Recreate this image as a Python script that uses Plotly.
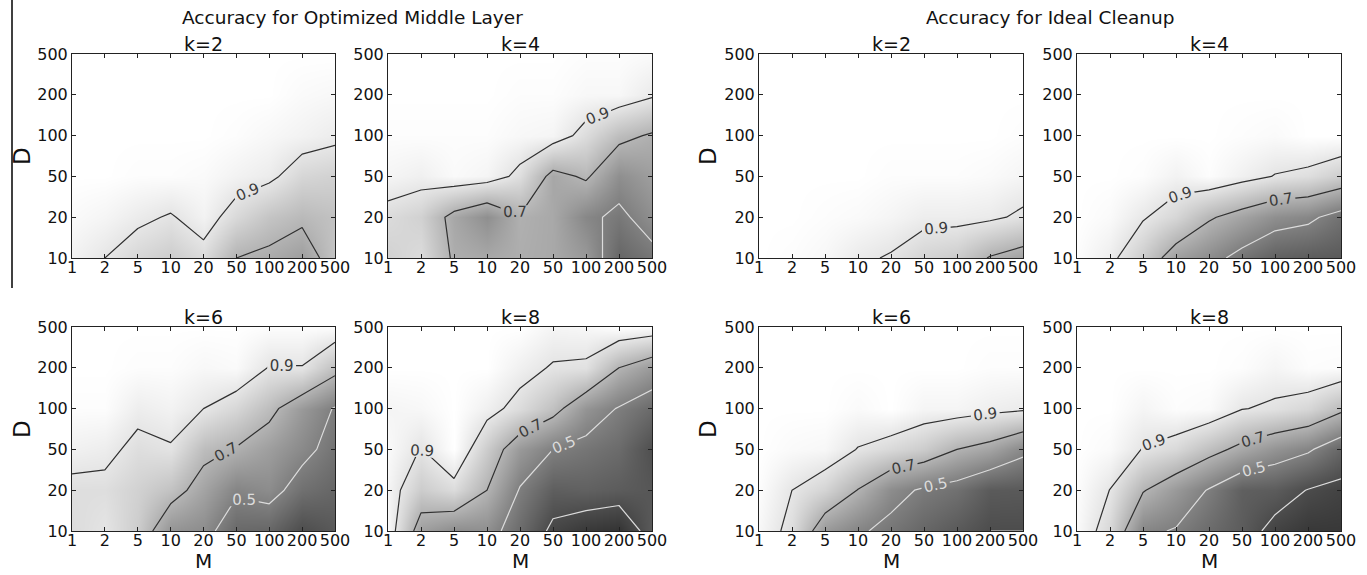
import plotly.graph_objects as go

W, H = 1367, 575

M_LABELS = ["1", "2", "5", "10", "20", "50", "100", "200", "500"]
D_LABELS = ["10", "20", "50", "100", "200", "500"]

# accuracy grids: rows = D (10..500), columns = M (1..500)
OPT_K2 = [
    [0.95, 0.90, 0.84, 0.80, 0.86, 0.70, 0.67, 0.62, 0.77],
    [0.98, 0.96, 0.923, 0.89, 0.95, 0.85, 0.77, 0.727, 0.76],
    [1.0, 1.0, 0.99, 0.99, 0.98, 0.95, 0.925, 0.84, 0.82],
    [1.0, 1.0, 1.0, 1.0, 1.0, 0.99, 0.97, 0.95, 0.925],
    [1.0, 1.0, 1.0, 1.0, 1.0, 1.0, 1.0, 0.98, 0.97],
    [1.0, 1.0, 1.0, 1.0, 1.0, 1.0, 1.0, 1.0, 1.0],
]
OPT_K4 = [
    [0.82, 0.86, 0.68, 0.66, 0.68, 0.66, 0.60, 0.40, 0.46],
    [0.86, 0.82, 0.654, 0.56, 0.69, 0.66, 0.53, 0.47, 0.56],
    [0.96, 0.94, 0.98, 0.96, 0.87, 0.654, 0.72, 0.56, 0.62],
    [0.99, 0.99, 0.99, 0.99, 0.97, 0.96, 0.86, 0.74, 0.684],
    [1.0, 1.0, 1.0, 1.0, 0.99, 0.99, 0.97, 0.97, 0.916],
    [1.0, 1.0, 1.0, 1.0, 1.0, 1.0, 0.99, 0.99, 0.98],
]
OPT_K6 = [
    [0.86, 0.895, 0.80, 0.58, 0.55, 0.41, 0.40, 0.30, 0.35],
    [0.87, 0.87, 0.82, 0.76, 0.64, 0.52, 0.55, 0.44, 0.40],
    [0.945, 0.93, 0.87, 0.89, 0.74, 0.69, 0.62, 0.54, 0.45],
    [0.99, 0.99, 0.93, 0.95, 0.90, 0.84, 0.74, 0.60, 0.49],
    [1.0, 1.0, 0.99, 0.99, 0.97, 0.98, 0.895, 0.895, 0.75],
    [1.0, 1.0, 1.0, 1.0, 1.0, 1.0, 0.99, 0.99, 0.99],
]
OPT_K8 = [
    [0.98, 0.62, 0.55, 0.56, 0.42, 0.27, 0.22, 0.20, 0.356],
    [0.96, 0.80, 0.86, 0.70, 0.49, 0.37, 0.38, 0.36, 0.34],
    [0.98, 0.895, 1.0, 0.80, 0.60, 0.50, 0.46, 0.42, 0.31],
    [0.96, 0.97, 1.0, 0.94, 0.86, 0.753, 0.58, 0.49, 0.415],
    [1.0, 1.0, 1.0, 1.0, 0.94, 0.89, 0.88, 0.70, 0.60],
    [1.0, 1.0, 1.0, 1.0, 1.0, 0.96, 0.97, 1.0, 0.985],
]
IDEAL_K2 = [
    [1.0, 0.99, 0.97, 0.92, 0.89, 0.83, 0.80, 0.69, 0.63],
    [1.0, 1.0, 0.99, 0.98, 0.96, 0.93, 0.93, 0.92, 0.88],
    [1.0, 1.0, 1.0, 1.0, 0.99, 0.99, 0.99, 0.98, 0.96],
    [1.0, 1.0, 1.0, 1.0, 1.0, 1.0, 1.0, 1.0, 0.99],
    [1.0, 1.0, 1.0, 1.0, 1.0, 1.0, 1.0, 1.0, 1.0],
    [1.0, 1.0, 1.0, 1.0, 1.0, 1.0, 1.0, 1.0, 1.0],
]
IDEAL_K4 = [
    [0.99, 0.93, 0.80, 0.625, 0.55, 0.454, 0.38, 0.36, 0.35],
    [1.0, 0.98, 0.91, 0.84, 0.717, 0.64, 0.56, 0.53, 0.442],
    [1.0, 1.0, 0.99, 0.95, 0.99, 0.943, 0.895, 0.87, 0.806],
    [1.0, 1.0, 1.0, 1.0, 1.0, 0.99, 0.98, 1.0, 1.0],
    [1.0, 1.0, 1.0, 1.0, 1.0, 1.0, 1.0, 1.0, 1.0],
    [1.0, 1.0, 1.0, 1.0, 1.0, 1.0, 1.0, 1.0, 1.0],
]
IDEAL_K6 = [
    [0.97, 0.864, 0.60, 0.52, 0.46, 0.40, 0.35, 0.30, 0.30],
    [0.99, 0.90, 0.83, 0.695, 0.55, 0.48, 0.44, 0.355, 0.35],
    [1.0, 0.98, 0.97, 0.895, 0.85, 0.80, 0.70, 0.645, 0.535],
    [1.0, 1.0, 1.0, 0.98, 1.0, 0.96, 0.96, 0.935, 0.919],
    [1.0, 1.0, 1.0, 1.0, 1.0, 1.0, 1.0, 0.99, 0.99],
    [1.0, 1.0, 1.0, 1.0, 1.0, 1.0, 1.0, 1.0, 1.0],
]
IDEAL_K8 = [
    [0.98, 0.842, 0.526, 0.49, 0.42, 0.36, 0.26, 0.22, 0.22],
    [0.99, 0.898, 0.71, 0.60, 0.49, 0.373, 0.36, 0.295, 0.261],
    [1.0, 0.98, 0.895, 0.85, 0.7525, 0.66, 0.58, 0.52, 0.40],
    [1.0, 1.0, 0.96, 0.99, 0.98, 0.905, 0.88, 0.84, 0.733],
    [1.0, 1.0, 1.0, 1.0, 1.0, 0.99, 0.96, 0.99, 0.986],
    [1.0, 1.0, 1.0, 1.0, 1.0, 1.0, 1.0, 1.0, 1.0],
]

PANELS = [
    ("k=2", OPT_K2, 0, 0), ("k=4", OPT_K4, 1, 0),
    ("k=2", IDEAL_K2, 2, 0), ("k=4", IDEAL_K4, 3, 0),
    ("k=6", OPT_K6, 0, 1), ("k=8", OPT_K8, 1, 1),
    ("k=6", IDEAL_K6, 2, 1), ("k=8", IDEAL_K8, 3, 1),
]

COLS = [(72, 335), (388, 652), (759, 1023), (1077, 1341)]
ROWS = [(54, 258), (327, 531)]

FONT = "DejaVu Sans"
TICK_SIZE = 16


def px_x(x):
    return x / W


def px_y(y):
    return 1 - y / H


xi = list(range(len(M_LABELS)))
yi = list(range(len(D_LABELS)))

fig = go.Figure()
layout = dict(
    width=W, height=H, margin=dict(l=0, r=0, t=0, b=0, autoexpand=False),
    paper_bgcolor="white", plot_bgcolor="white",
    font=dict(family=FONT, color="#111", size=TICK_SIZE),
    showlegend=False,
)
annotations = []

for i, (title, z, c, r) in enumerate(PANELS, start=1):
    xa, ya = f"x{i}", f"y{i}"
    fig.add_trace(go.Contour(
        x=xi, y=yi, z=z, xaxis=xa, yaxis=ya,
        zmin=0, zmax=1, colorscale=[[0, "black"], [1, "white"]],
        showscale=False, hoverinfo="skip",
        contours=dict(coloring="heatmap", showlines=False, start=0, end=1, size=0.05),
        line=dict(width=0, smoothing=0),
    ))
    fig.add_trace(go.Contour(
        x=xi, y=yi, z=z, xaxis=xa, yaxis=ya, showscale=False, hoverinfo="skip",
        contours=dict(coloring="none", start=0.7, end=0.9, size=0.2,
                      showlabels=True, labelformat=".1f",
                      labelfont=dict(family=FONT, size=15, color="#3a3a3a")),
        line=dict(color="#303030", width=1.2, smoothing=0),
    ))
    fig.add_trace(go.Contour(
        x=xi, y=yi, z=z, xaxis=xa, yaxis=ya, showscale=False, hoverinfo="skip",
        contours=dict(coloring="none", start=0.3, end=0.5, size=0.2,
                      showlabels=True, labelformat=".1f",
                      labelfont=dict(family=FONT, size=15, color="#dcdcdc")),
        line=dict(color="#dcdcdc", width=1.2, smoothing=0),
    ))
    x0, x1 = COLS[c]
    y0, y1 = ROWS[r]
    axcommon = dict(showline=True, mirror="ticks", linecolor="#222", linewidth=1,
                    ticks="inside", ticklen=4, tickcolor="#222", showgrid=False,
                    zeroline=False, automargin=False, tickangle=0,
                    tickfont=dict(family=FONT, size=TICK_SIZE, color="#111"))
    layout["xaxis" + ("" if i == 1 else str(i))] = dict(
        domain=[px_x(x0), px_x(x1)], anchor=ya, range=[0, len(M_LABELS) - 1],
        tickmode="array", tickvals=xi, ticktext=M_LABELS, ticklabelstandoff=-5, **axcommon)
    layout["yaxis" + ("" if i == 1 else str(i))] = dict(
        domain=[px_y(y1), px_y(y0)], anchor=xa, range=[0, len(D_LABELS) - 1],
        tickmode="array", tickvals=yi, ticktext=D_LABELS, **axcommon)
    annotations.append(dict(
        text=title, x=px_x((x0 + x1) / 2), y=px_y(y0 - 10), xref="paper", yref="paper",
        xanchor="center", yanchor="middle", showarrow=False,
        font=dict(family=FONT, size=19, color="#111")))

# block titles
annotations.append(dict(text="Accuracy for Optimized Middle Layer", x=px_x(352), y=px_y(17),
                        xref="paper", yref="paper", xanchor="center", yanchor="middle",
                        showarrow=False, font=dict(family=FONT, size=18.5, color="#111")))
annotations.append(dict(text="Accuracy for Ideal Cleanup", x=px_x(1050), y=px_y(17),
                        xref="paper", yref="paper", xanchor="center", yanchor="middle",
                        showarrow=False, font=dict(family=FONT, size=18.5, color="#111")))
# axis titles
for xd in (22, 708):
    for (ya0, ya1) in ROWS:
        annotations.append(dict(text="D", x=px_x(xd), y=px_y((ya0 + ya1) / 2),
                                xref="paper", yref="paper", xanchor="center", yanchor="middle",
                                textangle=-90, showarrow=False,
                                font=dict(family=FONT, size=23, color="#111")))
for (xa0, xa1) in COLS:
    annotations.append(dict(text="M", x=px_x((xa0 + xa1) / 2), y=px_y(561),
                            xref="paper", yref="paper", xanchor="center", yanchor="middle",
                            showarrow=False, borderpad=0,
                            font=dict(family=FONT, size=20, color="#111")))

layout["annotations"] = annotations
layout["shapes"] = [dict(type="line", xref="paper", yref="paper", x0=px_x(12), x1=px_x(12),
                         y0=1, y1=px_y(288), line=dict(color="black", width=1.5))]
fig.update_layout(**layout)
fig.write_html("out.html")
